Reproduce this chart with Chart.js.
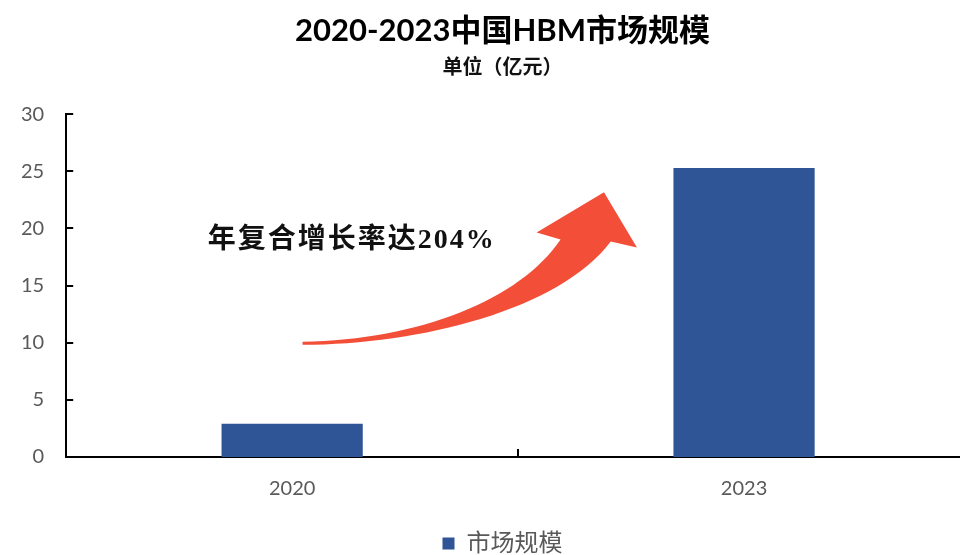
<!DOCTYPE html>
<html>
<head>
<meta charset="utf-8">
<script src="https://cdn.jsdelivr.net/npm/chart.js@4"></script>
<style>
  html, body { margin: 0; padding: 0; background: #fff; overflow: hidden; }
  #wrap { width: 1006px; height: 555px; }
</style>
</head>
<body>
<div id="wrap"><canvas id="myChart"></canvas></div>
<script>
const years = ["2020", "2023"];
const marketSize = [2.9, 25.3];
const yTicks = [0, 5, 10, 15, 20, 25, 30];
const seriesName = "市场规模";
const growthText = "年复合增长率达204%";

const latin = "Lato, 'Noto Sans CJK SC', sans-serif";

// tick marks point into the plot on both axes
const innerTicks = {
  id: "innerTicks",
  afterDatasetsDraw(chart) {
    const { ctx, scales, chartArea } = chart;
    const x = scales.x;
    const y = scales.y;
    ctx.save();
    ctx.strokeStyle = "#000";
    ctx.lineWidth = 2;
    yTicks.forEach((v) => {
      const py = Math.round(y.getPixelForValue(v));
      ctx.beginPath();
      ctx.moveTo(chartArea.left, py);
      ctx.lineTo(chartArea.left + 7, py);
      ctx.stroke();
    });
    const catW = x.getPixelForValue(1) - x.getPixelForValue(0);
    for (let i = 0; i <= years.length; i++) {
      const px = Math.round(x.getPixelForValue(0) - catW / 2 + i * catW);
      ctx.beginPath();
      ctx.moveTo(px, chartArea.bottom);
      ctx.lineTo(px, chartArea.bottom - 8);
      ctx.stroke();
    }
    ctx.restore();
  },
};

// curved red arrow with the growth note
const growthArrow = {
  id: "growthArrow",
  afterDraw(chart) {
    const { ctx, scales } = chart;
    const x = scales.x;
    const y = scales.y;
    const catW = x.getPixelForValue(1) - x.getPixelForValue(0);
    const at = (cx, v) => [x.getPixelForValue(0) + cx * catW, y.getPixelForValue(v)];

    const tail = at(0.023, 9.82);
    const o1 = at(0.282, 9.82);
    const o2 = at(0.592, 12.89);
    const oEnd = at(0.705, 18.86);
    const headR = at(0.763, 18.33);
    const tip = at(0.69, 23.16);
    const headL = at(0.541, 19.65);
    const iStart = at(0.594, 19.04);
    const i1 = at(0.504, 13.77);
    const i2 = at(0.282, 10.26);
    const tailIn = at(0.023, 10.09);

    ctx.save();
    ctx.fillStyle = "#F24E38";
    ctx.beginPath();
    ctx.moveTo(...tail);
    ctx.bezierCurveTo(...o1, ...o2, ...oEnd);
    ctx.lineTo(...headR);
    ctx.lineTo(...tip);
    ctx.lineTo(...headL);
    ctx.lineTo(...iStart);
    ctx.bezierCurveTo(...i1, ...i2, ...tailIn);
    ctx.closePath();
    ctx.fill();

    const t = at(-0.187, 18.95);
    ctx.fillStyle = "#111";
    ctx.font = "bold 28px 'Liberation Serif', 'Noto Sans CJK SC', serif";
    ctx.letterSpacing = "2px";
    ctx.textAlign = "left";
    ctx.textBaseline = "middle";
    ctx.fillText(growthText, t[0], t[1]);
    ctx.restore();
  },
};

new Chart(document.getElementById("myChart"), {
  type: "bar",
  data: {
    labels: years,
    datasets: [
      {
        label: seriesName,
        data: marketSize,
        backgroundColor: "#2F5597",
        barPercentage: 0.3125,
        categoryPercentage: 1,
      },
    ],
  },
  options: {
    responsive: true,
    maintainAspectRatio: false,
    animation: false,
    layout: { padding: { left: -1, right: 0, bottom: -10.5 } },
    plugins: {
      title: {
        display: true,
        text: "2020-2023中国HBM市场规模",
        color: "#000",
        font: { family: latin, size: 31, weight: "bold" },
        padding: { top: 12, bottom: 2 },
      },
      subtitle: {
        display: true,
        text: "单位（亿元）",
        color: "#111",
        font: { family: latin, size: 20, weight: "bold" },
        padding: { top: 4, bottom: 35 },
      },
      legend: {
        position: "bottom",
        labels: {
          color: "#595959",
          font: { family: latin, size: 24 },
          boxWidth: 12,
          boxHeight: 12,
          padding: 11.5,
        },
      },
      tooltip: { enabled: false },
    },
    scales: {
      x: {
        grid: { display: false, drawTicks: false },
        border: { color: "#000", width: 2 },
        ticks: { color: "#595959", font: { family: latin, size: 20 }, padding: 19.5 },
      },
      y: {
        min: 0,
        max: 30,
        grid: { display: false, drawTicks: false },
        border: { color: "#000", width: 2 },
        afterBuildTicks(axis) {
          axis.ticks = yTicks.map((v) => ({ value: v }));
        },
        ticks: { color: "#595959", font: { family: latin, size: 20 }, padding: 22 },
      },
      // empty right-hand spacer so the plot stops short of the canvas edge
      spacer: {
        type: "linear",
        position: "right",
        grid: { display: false, drawTicks: false },
        border: { display: false },
        ticks: { display: false },
        afterFit(axis) {
          axis.width = 36;
        },
      },
    },
  },
  plugins: [innerTicks, growthArrow],
});
</script>
</body>
</html>
